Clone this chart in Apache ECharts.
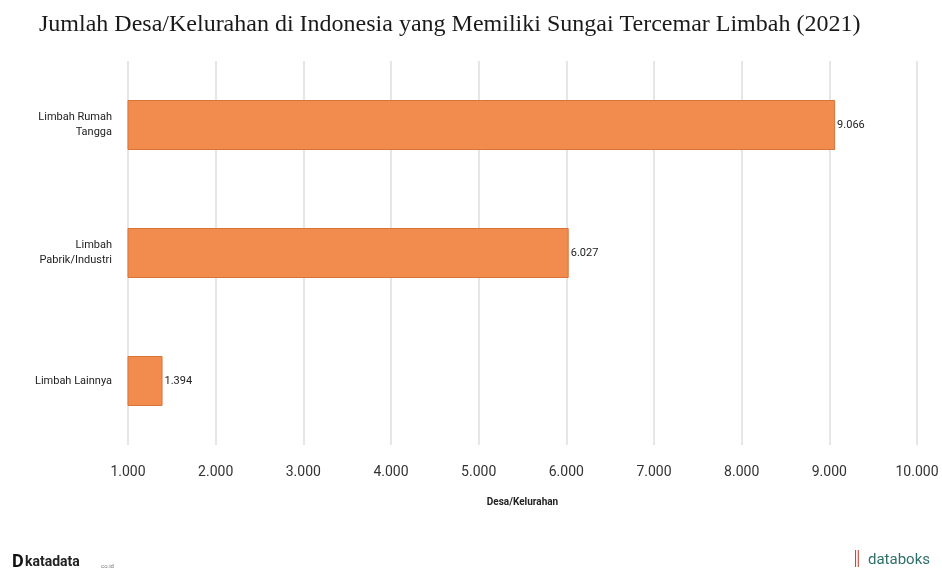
<!DOCTYPE html>
<html><head><meta charset="utf-8">
<script src="https://cdn.jsdelivr.net/npm/echarts@6/dist/echarts.min.js"></script>
<style>html,body{margin:0;padding:0;background:#fff}#c{width:942px;height:576px}</style>
</head><body><div id="c"></div>
<script>
var categories = ['Limbah Rumah\nTangga', 'Limbah\nPabrik/Industri', 'Limbah Lainnya'];
var values = [9066, 6027, 1394];
var chart = echarts.init(document.getElementById('c'));
chart.setOption({
  backgroundColor: '#fff',
  animation: false,
  title: {
    text: 'Jumlah Desa/Kelurahan di Indonesia yang Memiliki Sungai Tercemar Limbah (2021)',
    left: 34, top: 8,
    textStyle: { fontFamily: 'Liberation Serif', fontWeight: 'normal', fontSize: 24, color: '#1a1a1a' }
  },
  grid: { left: 128, right: 25, top: 61, bottom: 131 },
  xAxis: {
    type: 'value', min: 1000, max: 10000, interval: 1000,
    name: 'Desa/Kelurahan', nameLocation: 'middle', nameGap: 52,
    nameTextStyle: { fontFamily: 'Roboto', fontSize: 10, fontWeight: 'bold', color: '#222' },
    axisLine: { show: false }, axisTick: { show: false },
    axisLabel: { margin: 20, fontFamily: 'Roboto', fontSize: 14, color: '#333',
      formatter: function (v) { return v.toLocaleString('de-DE'); } },
    splitLine: { lineStyle: { color: '#dedede', width: 1.5 } }
  },
  yAxis: {
    type: 'category', data: categories, inverse: true,
    axisLine: { show: false },
    axisTick: { show: false },
    axisLabel: { margin: 16, fontFamily: 'Roboto', fontSize: 11, color: '#222', lineHeight: 15, align: 'right' }
  },
  series: [{
    type: 'bar', data: values, barWidth: 50,
    itemStyle: { color: '#F28C4E', borderColor: '#D8733A', borderWidth: 1 },
    label: { show: true, position: 'right', distance: 2, fontFamily: 'Roboto', fontSize: 11, color: '#222',
      formatter: function (p) { return p.value.toLocaleString('de-DE'); } }
  }],
  graphic: [
    { type: 'text', left: 12, top: 553, style: { text: 'D', font: 'bold 18px Roboto', fill: '#111' } },
    { type: 'text', left: 25, top: 555, style: { text: 'katadata', font: 'bold 14px Roboto', fill: '#222' } },
    { type: 'text', left: 101, top: 563, style: { text: 'co.id', font: '6px Roboto', fill: '#777' } },
    { type: 'text', right: 12, top: 553, style: { text: 'databoks', font: '15px Roboto', fill: '#2e6e6b' } },
    { type: 'text', right: 80, top: 552, style: { text: '\u2551', font: 'bold 14px Roboto', fill: '#c0392b' } }
  ]
});
</script></body></html>
